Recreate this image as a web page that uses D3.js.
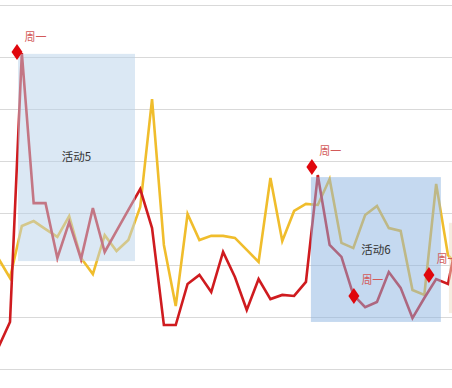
<!DOCTYPE html>
<html>
<head>
<meta charset="utf-8">
<script src="https://cdn.jsdelivr.net/npm/d3@7"></script>
<style>
  html, body { margin: 0; padding: 0; background: #fff; }
  svg { display: block; }
</style>
</head>
<body>
<svg id="chart" width="452" height="388"></svg>
<script>
"use strict";

// jours (index de catégorie), -1 et 38 débordent du cadre
var days = d3.range(-1, 39);

var redValues = [8.1, 18.1, 121.5, 63.8, 63.8, 42.7, 56.5, 42.3, 61.9, 45.0,
  53.1, 61.2, 69.2, 54.2, 16.9, 16.9, 32.7, 36.2, 29.6, 45.0,
  35.4, 22.7, 34.6, 26.9, 28.5, 28.1, 33.5, 74.6, 47.7, 43.1,
  28.5, 23.8, 25.8, 37.3, 31.2, 19.6, 27.3, 34.6, 32.7, 55.4];

var yellowValues = [42.7, 35.0, 55.0, 56.9, 53.8, 50.8, 58.8, 42.7, 36.5, 51.5,
  45.4, 49.6, 62.3, 103.8, 47.7, 24.2, 59.6, 49.6, 51.2, 51.2,
  50.4, 45.8, 41.2, 73.5, 49.2, 60.8, 63.5, 63.1, 73.1, 48.5,
  46.5, 59.2, 62.7, 54.2, 53.1, 30.4, 28.5, 71.2, 43.8, 38.8];

// zones d'activité : début / fin (index), haut / bas (valeur)
var activities = [
  { name: "活动5", x0: 0.68, x1: 10.56, top: 121.2, bottom: 41.5, fill: "rgb(184,209,233)" },
  { name: "活动6", x0: 25.42, x1: 36.4, top: 73.8, bottom: 18.1, fill: "rgb(140,180,225)" },
  { name: "", x0: 37.08, x1: 40, top: 56.2, bottom: 21.5, fill: "rgb(235,220,195)" }
];

// marqueurs « 周一 »
var mondays = [
  { i: 0.59, v: 121.9, label: "周一" },
  { i: 25.5, v: 77.7, label: "周一" },
  { i: 29.05, v: 28.1, label: "周一" },
  { i: 35.39, v: 36.2, label: "周一" }
];

var yTicks = [0, 20, 40, 60, 80, 100, 120, 140];

var svg = d3.select("#chart");

var x = d3.scaleLinear().domain([0, 37]).range([10, 448]);
var y = d3.scaleLinear().domain([0, 140]).range([369, 5]);

// grille horizontale
svg.append("g")
  .selectAll("line")
  .data(yTicks)
  .enter()
  .append("line")
  .attr("x1", 0)
  .attr("x2", 452)
  .attr("y1", function (d) { return Math.round(y(d)) + 0.5; })
  .attr("y2", function (d) { return Math.round(y(d)) + 0.5; })
  .attr("stroke", "#d9d9d9")
  .attr("stroke-width", 1);

var line = d3.line()
  .x(function (d) { return x(d[0]); })
  .y(function (d) { return y(d[1]); });

function drawSeries(values, color) {
  svg.append("path")
    .datum(days.map(function (d, i) { return [d, values[i]]; }))
    .attr("fill", "none")
    .attr("stroke", color)
    .attr("stroke-width", 2.6)
    .attr("stroke-linejoin", "miter")
    .attr("d", line);
}

drawSeries(yellowValues, "#f0bd2c");
drawSeries(redValues, "#cf1b1f");

// zones semi-transparentes au-dessus des courbes
svg.append("g")
  .selectAll("rect")
  .data(activities)
  .enter()
  .append("rect")
  .attr("x", function (d) { return x(d.x0); })
  .attr("y", function (d) { return y(d.top); })
  .attr("width", function (d) { return x(d.x1) - x(d.x0); })
  .attr("height", function (d) { return y(d.bottom) - y(d.top); })
  .attr("fill", function (d) { return d.fill; })
  .attr("fill-opacity", 0.5);

// nom de l'activité au centre de sa zone
svg.append("g")
  .selectAll("text")
  .data(activities.filter(function (d) { return d.name; }))
  .enter()
  .append("text")
  .attr("x", function (d) { return (x(d.x0) + x(d.x1)) / 2; })
  .attr("y", function (d) { return (y(d.top) + y(d.bottom)) / 2 + 4; })
  .attr("text-anchor", "middle")
  .attr("font-family", "'Noto Sans CJK SC', 'DejaVu Sans', sans-serif")
  .attr("font-size", "11.5px")
  .attr("fill", "#333")
  .text(function (d) { return d.name; });

// losanges rouges
svg.append("g")
  .selectAll("path")
  .data(mondays)
  .enter()
  .append("path")
  .attr("transform", function (d) { return "translate(" + x(d.i) + "," + y(d.v) + ")"; })
  .attr("d", "M0,-8L5.5,0L0,8L-5.5,0Z")
  .attr("fill", "#e0070d");

svg.append("g")
  .selectAll("text")
  .data(mondays)
  .enter()
  .append("text")
  .attr("x", function (d) { return x(d.i) + 18.5; })
  .attr("y", function (d) { return y(d.v) - 11.5; })
  .attr("text-anchor", "middle")
  .attr("font-family", "'Noto Sans CJK SC', sans-serif")
  .attr("font-size", "11px")
  .attr("fill", "#d35a5a")
  .text(function (d) { return d.label; });
</script>
</body>
</html>
